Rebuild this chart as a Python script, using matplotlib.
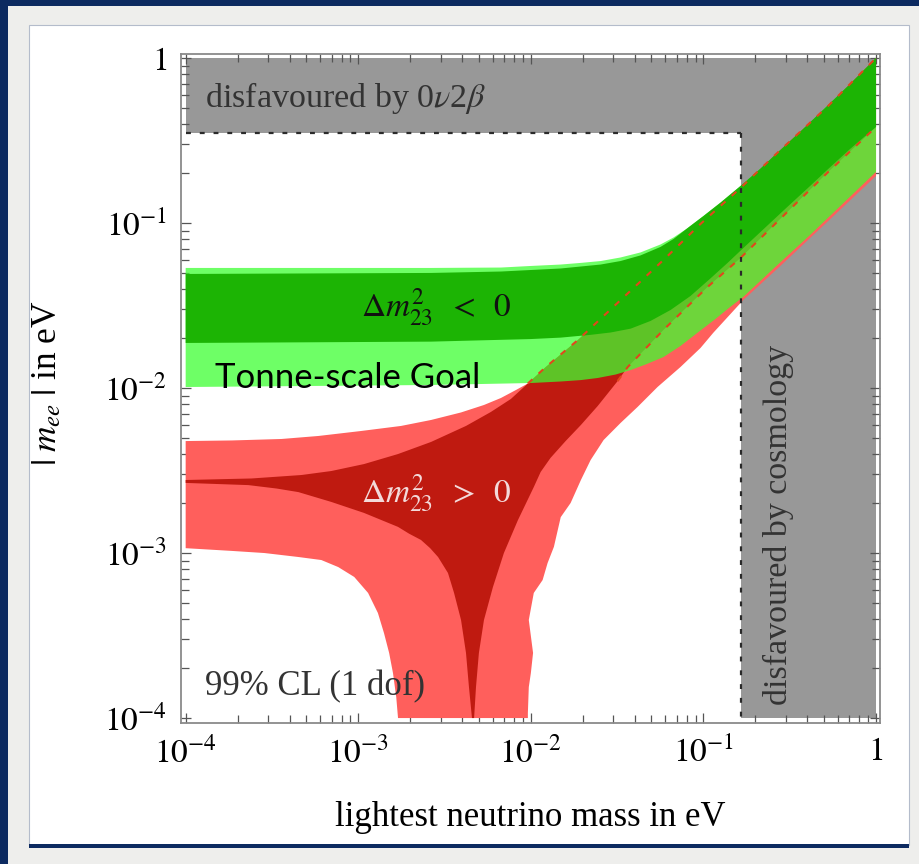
import matplotlib
matplotlib.use('Agg')
import matplotlib.pyplot as plt
from matplotlib.patches import Rectangle
from matplotlib.ticker import FixedLocator, FixedFormatter, LogLocator, NullFormatter

plt.rcParams['font.family'] = ['Liberation Serif', 'DejaVu Serif']
plt.rcParams['mathtext.fontset'] = 'stix'

# ---------------- data (eV) ----------------
m_min, m_max = 1e-4, 1.0
mee_min, mee_max = 1e-4, 1.0
bb0nu_limit = 0.35       # disfavoured by 0v2b above this |m_ee|
cosmo_limit = 0.166      # disfavoured by cosmology above this m_lightest

# normal hierarchy, 99% CL (light red)
nh99_up_x = [1e-4, 1.85e-4, 3.59e-4, 5.87e-4, 1.04e-3, 1.77e-3, 2.64e-3, 3.94e-3, 5.35e-3,
             6.71e-3, 8.19e-3, 9.61e-3, 1.22e-2, 1.87e-2, 3.31e-2, 5.87e-2, 9.61e-2, 0.164,
             0.268, 0.521, 1.0]
nh99_up_y = [4.77e-3, 4.81e-3, 4.91e-3, 5.12e-3, 5.49e-3, 5.89e-3, 6.40e-3, 7.11e-3, 7.89e-3,
             8.70e-3, 9.72e-3, 1.065e-2, 1.34e-2, 1.95e-2, 3.41e-2, 5.97e-2, 9.86e-2, 0.163,
             0.266, 0.505, 1.0]
nh99_lo_x = [1e-4, 1.85e-4, 2.86e-4, 4.50e-4, 6.11e-4, 7.66e-4, 9.48e-4, 1.14e-3, 1.30e-3,
             1.41e-3, 1.51e-3, 1.59e-3, 1.66e-3, 1.70e-3, 9.61e-3, 9.61e-3, 9.73e-3, 1.0e-2,
             1.03e-2, 9.73e-3, 1.04e-2, 1.17e-2, 1.25e-2, 1.36e-2, 1.49e-2, 1.70e-2, 1.95e-2,
             2.22e-2, 2.64e-2, 3.31e-2, 4.15e-2, 5.42e-2, 7.36e-2, 9.61e-2, 0.114, 0.170,
             0.279, 0.521, 1.0]
nh99_lo_y = [1.07e-3, 1.03e-3, 1.0e-3, 9.46e-4, 9.07e-4, 8.22e-4, 7.16e-4, 5.73e-4, 4.33e-4,
             3.27e-4, 2.48e-4, 1.87e-4, 1.34e-4, 1e-4, 1e-4, 1.07e-4, 1.54e-4, 1.87e-4,
             2.48e-4, 3.93e-4, 5.73e-4, 6.86e-4, 8.69e-4, 1.09e-3, 1.65e-3, 2.01e-3, 2.77e-3,
             3.66e-3, 4.84e-3, 6.14e-3, 7.67e-3, 1.014e-2, 1.34e-2, 1.747e-2, 2.16e-2, 3.41e-2,
             5.49e-2, 0.1014, 0.193]

# normal hierarchy, best fit (dark red)
nhbf_up_x = [1e-4, 2.41e-4, 4.69e-4, 6.98e-4, 1.08e-3, 1.70e-3, 2.64e-3, 4.21e-3, 5.87e-3,
             7.66e-3, 9.61e-3, 1.22e-2, 1.87e-2, 3.31e-2, 5.87e-2, 9.61e-2, 0.164, 0.268,
             0.521, 1.0]
nhbf_up_y = [2.77e-3, 2.83e-3, 2.97e-3, 3.14e-3, 3.46e-3, 3.98e-3, 4.71e-3, 5.89e-3, 7.16e-3,
             8.58e-3, 1.065e-2, 1.34e-2, 1.95e-2, 3.41e-2, 5.97e-2, 9.86e-2, 0.163, 0.266,
             0.505, 1.0]
nhbf_lo_x = [1e-4, 2.31e-4, 3.36e-4, 4.50e-4, 6.98e-4, 1.08e-3, 1.70e-3, 1.97e-3, 2.31e-3,
             2.61e-3, 2.90e-3, 3.31e-3, 3.59e-3, 3.94e-3, 4.21e-3, 4.38e-3, 4.56e-3, 4.69e-3,
             4.81e-3, 5.0e-3, 5.35e-3, 6.03e-3, 6.98e-3, 8.41e-3, 1.04e-2, 1.14e-2, 1.30e-2,
             1.59e-2, 1.95e-2, 2.44e-2, 3.18e-2, 3.64e-2, 5.87e-2, 0.1055, 0.164, 0.306,
             0.521, 1.0]
nhbf_lo_y = [2.66e-3, 2.58e-3, 2.46e-3, 2.34e-3, 2.04e-3, 1.75e-3, 1.44e-3, 1.31e-3, 1.20e-3,
             1.07e-3, 9.46e-4, 7.57e-4, 5.73e-4, 3.93e-4, 2.48e-4, 1.54e-4, 1e-4, 1e-4,
             1.54e-4, 2.48e-4, 3.93e-4, 6.22e-4, 1.0e-3, 1.58e-3, 2.51e-3, 3.10e-3, 3.77e-3,
             4.77e-3, 5.97e-3, 7.78e-3, 1.10e-2, 1.34e-2, 2.25e-2, 4.09e-2, 6.14e-2, 0.1166,
             0.201, 0.382]

# inverted hierarchy, 99% CL (light green)
ih99_up_x = [1e-4, 2.64e-3, 6.71e-3, 1e-2, 1.49e-2, 1.95e-2, 2.54e-2, 3.31e-2, 4.32e-2,
             5.64e-2, 6.71e-2, 7.97e-2, 0.1, 0.1254, 0.164, 0.2136, 0.268, 0.3638, 0.521,
             0.7077, 1.0]
ih99_up_y = [0.0534, 0.0534, 0.0537, 0.0549, 0.0560, 0.0573, 0.0588, 0.0618, 0.0663,
             0.0741, 0.0817, 0.092, 0.1102, 0.1327, 0.1676, 0.2131, 0.266, 0.357, 0.512,
             0.695, 1.0]
ih99_lo_x = [1e-4, 2.64e-3, 1e-2, 1.49e-2, 1.95e-2, 2.44e-2, 3.10e-2, 3.79e-2, 4.62e-2,
             5.87e-2, 7.36e-2, 9.23e-2, 0.1174, 0.143, 0.170, 0.2607, 0.415, 0.644, 1.0]
ih99_lo_y = [0.01014, 0.01043, 0.01072, 0.01095, 0.01117, 0.0115, 0.01207, 0.01285, 0.01388,
             0.0154, 0.01797, 0.0216, 0.0262, 0.0310, 0.0356, 0.0541, 0.0846, 0.1313, 0.204]

# inverted hierarchy, best fit (dark green)
ihbf_up_x = [1e-4, 2.64e-3, 6.71e-3, 1.49e-2, 2.54e-2, 3.31e-2, 4.32e-2, 5.64e-2, 6.71e-2,
             7.97e-2, 0.1, 0.1254, 0.164, 0.2136, 0.268, 0.3638, 0.521, 0.7077, 1.0]
ihbf_up_y = [0.0491, 0.0498, 0.0508, 0.0530, 0.0560, 0.0588, 0.0636, 0.0716, 0.080,
             0.092, 0.1102, 0.1327, 0.1676, 0.2131, 0.266, 0.357, 0.512, 0.695, 1.0]
ihbf_lo_x = [1e-4, 2.64e-3, 1e-2, 1.49e-2, 2.22e-2, 2.90e-2, 3.79e-2, 4.94e-2, 6.45e-2,
             8.41e-2, 0.1097, 0.138, 0.168, 0.2283, 0.306, 0.415, 0.521, 0.7077, 1.0]
ihbf_lo_y = [0.01875, 0.0191, 0.0198, 0.0202, 0.0210, 0.0217, 0.0229, 0.0255, 0.0297,
             0.0361, 0.0461, 0.0573, 0.0696, 0.0939, 0.125, 0.1676, 0.2096, 0.281, 0.382]

# red dashed lines (continuation of NH best-fit edges)
dash_up_x = [9.61e-3, 1.22e-2, 1.87e-2, 3.31e-2, 5.87e-2, 9.61e-2, 0.164, 0.268, 0.521, 1.0]
dash_up_y = [1.065e-2, 1.34e-2, 1.95e-2, 3.41e-2, 5.97e-2, 9.86e-2, 0.163, 0.266, 0.505, 1.0]
dash_lo_x = [3.18e-2, 3.64e-2, 5.87e-2, 0.1055, 0.164, 0.306, 0.521, 1.0]
dash_lo_y = [1.10e-2, 1.34e-2, 2.25e-2, 4.09e-2, 6.14e-2, 0.1166, 0.201, 0.382]

decade_ticks = [1e-4, 1e-3, 1e-2, 1e-1, 1.0]
decade_labels = [r'$10^{-4}$', r'$10^{-3}$', r'$10^{-2}$', r'$10^{-1}$', r'$1$']

# ---------------- figure / frame ----------------
W, H = 920, 864
fig = plt.figure(figsize=(W / 100, H / 100), dpi=100)
fig.patch.set_facecolor('#eeeeec')


def pxrect(x0, y0, x1, y1, **kw):
    fig.patches.append(Rectangle((x0 / W, 1 - y1 / H), (x1 - x0) / W, (y1 - y0) / H,
                                 transform=fig.transFigure, figure=fig, **kw))


NAVY = '#0c2a60'
pxrect(0, 0, W, 6, facecolor=NAVY, edgecolor='none', zorder=-5)
pxrect(0, 0, 8, H, facecolor=NAVY, edgecolor='none', zorder=-5)
pxrect(29, 25, 909, 845, facecolor='white', edgecolor='#b4bccb', lw=0.8, zorder=-5)
pxrect(29, 844, 909, 848, facecolor=NAVY, edgecolor='none', zorder=-4)

ax = fig.add_axes([181 / W, 1 - 723 / H, 699 / W, 669 / H])
ax.set_zorder(2)
ax.set_xscale('log')
ax.set_yscale('log')
ax.set_xlim(10 ** -4.027, 10 ** 0.023)
ax.set_ylim(10 ** -4.03, 10 ** 0.024)
ax.set_facecolor('white')

# excluded regions
GRAY = '#989898'
ax.fill([m_min, cosmo_limit, cosmo_limit, m_max, m_max, m_min],
        [bb0nu_limit, bb0nu_limit, mee_min, mee_min, mee_max, mee_max],
        color=GRAY, lw=0, zorder=1)

# bands
ax.fill(nh99_up_x + nh99_lo_x[::-1], nh99_up_y + nh99_lo_y[::-1],
        color='#ff5f5c', lw=0, zorder=2)
ax.fill(nhbf_up_x + nhbf_lo_x[::-1], nhbf_up_y + nhbf_lo_y[::-1],
        color='#bf1a10', lw=0, zorder=3)
ax.fill(ih99_up_x + ih99_lo_x[::-1], ih99_up_y + ih99_lo_y[::-1],
        color='#3cff30', alpha=0.74, lw=0, zorder=4)
ax.fill(ihbf_up_x + ihbf_lo_x[::-1], ihbf_up_y + ihbf_lo_y[::-1],
        color='#1cb404', lw=0, zorder=5)

ax.plot(dash_up_x, dash_up_y, color='#e2461c', lw=1.5, ls=(0, (3, 4)), zorder=6)
ax.plot(dash_lo_x, dash_lo_y, color='#e2461c', lw=1.5, ls=(0, (3, 4)), zorder=6)

# boundaries of excluded regions
ax.plot([m_min, cosmo_limit], [bb0nu_limit, bb0nu_limit], color='#2a2a2a', lw=1.6,
        ls=(0, (2.2, 4)), zorder=7)
ax.plot([cosmo_limit, cosmo_limit], [bb0nu_limit, mee_min], color='#2a2a2a', lw=1.6,
        ls=(0, (2.2, 4)), zorder=7)

# texts
ax.text(1.29e-4, 0.505, r'disfavoured by 0$\nu$2$\beta$', fontsize=24.5, color='#333333',
        ha='left', va='baseline', zorder=8)
ax.text(0.271, 1.48e-3, 'disfavoured by cosmology', fontsize=24.5, color='#333333',
        rotation=90, ha='center', va='center', zorder=8)
ax.text(1.29e-4, 1.38e-4, '99% CL (1 dof)', fontsize=25, color='#333333',
        ha='left', va='baseline', zorder=8)
ax.text(2.82e-3, 0.031, r'$\Delta m^2_{23}\;\;<\;\;0$', fontsize=24, color='#111111',
        ha='center', va='center', zorder=8)
ax.text(2.82e-3, 2.31e-3, r'$\Delta m^2_{23}\;\;>\;\;0$', fontsize=24, color='#f3dada',
        ha='center', va='center', zorder=8)
ax.text(1.47e-4, 0.01, 'Tonne-scale Goal', fontsize=25, color='black',
        family=['Lato', 'DejaVu Sans'], ha='left', va='baseline', zorder=8)

# axes styling
for s in ax.spines.values():
    s.set_color('#8a8a8a')
    s.set_linewidth(1.3)
for axis in (ax.xaxis, ax.yaxis):
    axis.set_major_locator(FixedLocator(decade_ticks))
    axis.set_major_formatter(FixedFormatter(decade_labels))
    axis.set_minor_locator(LogLocator(base=10, subs=range(2, 10), numticks=20))
    axis.set_minor_formatter(NullFormatter())
ax.tick_params(which='both', direction='in', top=True, right=True, color='#555555',
               width=0.9)
ax.tick_params(which='major', length=7.5, labelsize=24, pad=10)
ax.tick_params(which='minor', length=6)

fig.text(48 / W, 1 - 383 / H, r'$|\;m_{ee}\;|$ in eV', rotation=90, fontsize=25.5,
         ha='center', va='center')
fig.text(530 / W, 1 - 818 / H, 'lightest neutrino mass in eV', fontsize=25,
         ha='center', va='center')

fig.savefig('out.png', dpi=100, facecolor=fig.get_facecolor())
